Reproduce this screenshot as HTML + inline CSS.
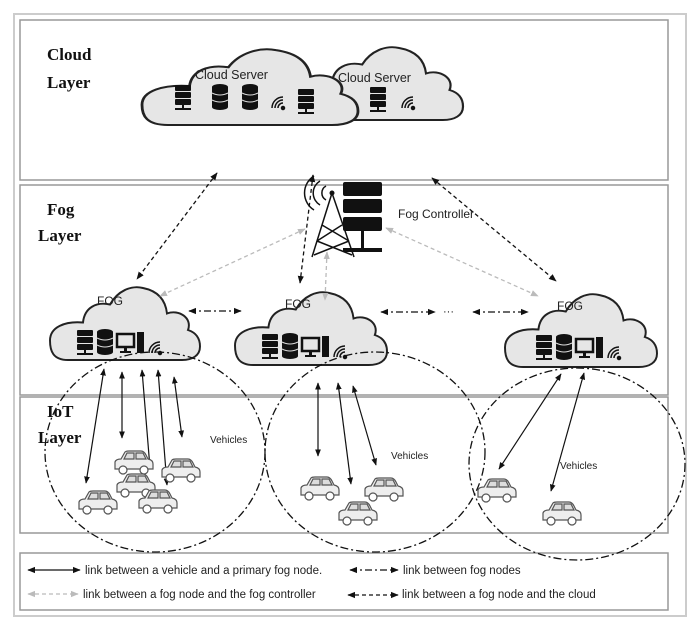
<!DOCTYPE html>
<html><head><meta charset="utf-8"><style>
html,body{margin:0;padding:0;background:#fff;}
svg{display:block;font-family:"Liberation Sans",sans-serif;}
</style></head><body>
<svg width="700" height="631" viewBox="0 0 700 631" xmlns="http://www.w3.org/2000/svg">
<defs>
<path id="cl" d="M12,50 C2,50 0,44 0,37 C0,28 10,24 22,25 C23,15 31,11 40,13 C45,4 54,0 62,2 C72,4 77,10 78,19 C86,16 95,22 92,30 C98,32 100,36 100,41 C100,47 95,50 88,50 Z"/>
<marker id="ab" viewBox="0 0 10 10" refX="9" refY="5" markerWidth="6" markerHeight="6" orient="auto-start-reverse"><path d="M0,1 L10,5 L0,9 z" fill="#111"/></marker>
<marker id="ag" viewBox="0 0 10 10" refX="9" refY="5" markerWidth="6" markerHeight="6" orient="auto-start-reverse"><path d="M0,1 L10,5 L0,9 z" fill="#bbb"/></marker>
<g id="srv"><rect x="0" y="0" width="16" height="6" rx="1" fill="#111"/><rect x="0" y="7" width="16" height="6" rx="1" fill="#111"/><rect x="0" y="14" width="16" height="6" rx="1" fill="#111"/><rect x="7" y="20" width="2" height="4" fill="#111"/><rect x="0" y="23" width="16" height="2" fill="#111"/></g>
<g id="db"><ellipse cx="8" cy="3" rx="8" ry="3" fill="#111"/><rect x="0" y="3" width="16" height="20" fill="#111"/><ellipse cx="8" cy="23" rx="8" ry="3" fill="#111"/><path d="M0,9 Q8,13 16,9 M0,16 Q8,20 16,16" stroke="#ddd" fill="none" stroke-width="1"/></g>
<g id="pc"><rect x="0" y="3" width="17" height="13" fill="none" stroke="#111" stroke-width="2.5"/><rect x="7" y="16" width="3" height="4" fill="#111"/><rect x="3" y="20" width="11" height="2" fill="#111"/><rect x="20" y="1" width="7" height="21" fill="#111"/></g>
<g id="wf" fill="none" stroke="#111" stroke-width="1.5"><circle cx="10" cy="18" r="1.5" fill="#111"/><path d="M5,18 A5,5 0 0 1 10,13"/><path d="M2,18 A8,8 0 0 1 10,10"/><path d="M-1,18 A11,11 0 0 1 10,7"/></g>
<g id="car" fill="#eee" stroke="#555" stroke-width="1.2"><path d="M2,19 L2,12 Q3,9 8,9 L12,2 Q13,1 16,1 L28,1 Q31,1 33,5 L35,9 Q40,10 40,14 L40,19 Z"/><path d="M14,3 L11,9 L21,9 L21,3 Z M23,3 L23,9 L33,9 L30,3 Z" fill="#ddd"/><circle cx="10" cy="20" r="4" fill="#fff"/><circle cx="31" cy="20" r="4" fill="#fff"/></g>
<g id="fogicons"><use href="#srv" x="0" y="0"/><use href="#db" x="20" y="-1"/><use href="#pc" x="40" y="1"/><use href="#wf" x="73" y="5"/></g>
</defs>
<rect x="14" y="14" width="672" height="602" fill="#fff" stroke="#ccc" stroke-width="2"/>
<rect x="20" y="20" width="648" height="160" fill="#fff" stroke="#999" stroke-width="1.5"/>
<rect x="20" y="185" width="648" height="210" fill="#fff" stroke="#999" stroke-width="1.5"/>
<rect x="20" y="397" width="648" height="136" fill="#fff" stroke="#999" stroke-width="1.5"/>
<rect x="20" y="553" width="648" height="57" fill="#fff" stroke="#999" stroke-width="1.5"/>
<g font-family="Liberation Serif,serif" font-weight="bold" font-size="17" fill="#111">
<text x="47" y="60">Cloud</text><text x="47" y="88">Layer</text>
<text x="47" y="215">Fog</text><text x="38" y="241">Layer</text>
<text x="47" y="417">IoT</text><text x="38" y="443">Layer</text>
</g>
<!-- clouds -->
<use href="#cl" transform="translate(295,45) scale(1.68,1.5)" fill="#e6e6e6" stroke="#222" stroke-width="1.3" vector-effect="non-scaling-stroke"/>
<use href="#cl" transform="translate(142,47) scale(2.16,1.56)" fill="#e6e6e6" stroke="#222" stroke-width="1.3" vector-effect="non-scaling-stroke"/>
<text x="195" y="100" font-size="13" fill="#222" style="display:none"></text>
<text x="196" y="100" font-size="13" fill="#222"></text>
<text x="196" y="100" font-size="12.5" fill="#222"> </text>
<text x="195" y="101" font-size="12.5" fill="#222" style="display:none">x</text>
<text x="195" y="79" font-size="12.5" fill="#222">Cloud Server</text>
<text x="338" y="82" font-size="12.5" fill="#222">Cloud Server</text>
<use href="#srv" x="175" y="85"/><use href="#db" x="212" y="84"/><use href="#db" x="242" y="84"/><use href="#wf" x="273" y="90"/><use href="#srv" x="298" y="89"/>
<use href="#srv" x="370" y="87"/><use href="#wf" x="403" y="90"/>
<!-- fog clouds -->
<use href="#cl" transform="translate(50,285) scale(1.5,1.5)" fill="#e6e6e6" stroke="#222" stroke-width="1.3" vector-effect="non-scaling-stroke"/>
<use href="#cl" transform="translate(235,290) scale(1.52,1.5)" fill="#e6e6e6" stroke="#222" stroke-width="1.3" vector-effect="non-scaling-stroke"/>
<use href="#cl" transform="translate(505,292) scale(1.52,1.5)" fill="#e6e6e6" stroke="#222" stroke-width="1.3" vector-effect="non-scaling-stroke"/>
<text x="97" y="305" font-size="12" fill="#222">FOG</text>
<text x="285" y="308" font-size="12" fill="#222">FOG</text>
<text x="557" y="310" font-size="12" fill="#222">FOG</text>
<use href="#fogicons" x="77" y="330"/><use href="#fogicons" x="262" y="334"/><use href="#fogicons" x="536" y="335"/>
<!-- fog controller -->
<g stroke="#111" stroke-width="1.5" fill="none"><path d="M332,193 L312,257 M332,193 L354,257 M322,225 L349,241 M342,225 L317,241 M317,241 L352,255 M349,241 L314,255"/>
<path d="M326,200 A8,8 0 0 1 326,186 M320,205 A14,14 0 0 1 320,181 M314,210 A20,20 0 0 1 314,176"/></g>
<circle cx="332" cy="193" r="2.5" fill="#111"/>
<rect x="343" y="182" width="39" height="14" rx="2" fill="#111"/><rect x="343" y="199" width="39" height="14" rx="2" fill="#111"/><rect x="343" y="217" width="39" height="14" rx="2" fill="#111"/>
<rect x="361" y="231" width="3" height="18" fill="#111"/><rect x="343" y="248" width="39" height="4" fill="#111"/>
<text x="398" y="218" font-size="12" fill="#222">Fog Controller</text>
<!-- cloud links -->
<g stroke="#111" stroke-width="1.3" stroke-dasharray="4,3" fill="none" marker-start="url(#ab)" marker-end="url(#ab)">
<line x1="217" y1="173" x2="137" y2="279"/><line x1="313" y1="175" x2="300" y2="283"/><line x1="432" y1="178" x2="556" y2="281"/></g>
<g stroke="#bbb" stroke-width="1.3" stroke-dasharray="4,3" fill="none" marker-start="url(#ag)" marker-end="url(#ag)">
<line x1="305" y1="229" x2="160" y2="296"/><line x1="327" y1="252" x2="325" y2="300"/><line x1="386" y1="228" x2="538" y2="296"/></g>
<g stroke="#111" stroke-width="1.3" stroke-dasharray="7,3,2,3" fill="none" marker-start="url(#ab)" marker-end="url(#ab)">
<line x1="189" y1="311" x2="241" y2="311"/><line x1="381" y1="312" x2="435" y2="312"/><line x1="473" y1="312" x2="528" y2="312"/></g>
<text x="443" y="315" font-size="11" fill="#111">···</text>
<!-- coverage ellipses -->
<g fill="none" stroke="#111" stroke-width="1.3" stroke-dasharray="8,3,2,3">
<ellipse cx="155" cy="452" rx="110" ry="100"/><ellipse cx="375" cy="452" rx="110" ry="100"/><ellipse cx="577" cy="464" rx="108" ry="96"/></g>
<!-- vehicle links -->
<g stroke="#111" stroke-width="1.2" marker-start="url(#ab)" marker-end="url(#ab)">
<line x1="104" y1="369" x2="86" y2="483"/><line x1="122" y1="372" x2="122" y2="438"/><line x1="142" y1="370" x2="150" y2="468"/><line x1="158" y1="370" x2="167" y2="485"/><line x1="174" y1="377" x2="182" y2="437"/>
<line x1="318" y1="383" x2="318" y2="456"/><line x1="338" y1="383" x2="351" y2="484"/><line x1="353" y1="386" x2="376" y2="465"/>
<line x1="561" y1="374" x2="499" y2="469"/><line x1="584" y1="373" x2="551" y2="491"/></g>
<g font-size="10" fill="#222"><text x="210" y="443">Vehicles</text><text x="391" y="459">Vehicles</text><text x="560" y="469">Vehicles</text></g>
<use href="#car" x="113" y="450"/><use href="#car" x="160" y="458"/><use href="#car" x="115" y="473"/><use href="#car" x="77" y="490"/><use href="#car" x="137" y="489"/>
<use href="#car" x="299" y="476"/><use href="#car" x="363" y="477"/><use href="#car" x="337" y="501"/>
<use href="#car" x="476" y="478"/><use href="#car" x="541" y="501"/>
<!-- legend -->
<g stroke-width="1.3" fill="none">
<line x1="28" y1="570" x2="80" y2="570" stroke="#111" marker-start="url(#ab)" marker-end="url(#ab)"/>
<line x1="350" y1="570" x2="398" y2="570" stroke="#111" stroke-dasharray="7,3,2,3" marker-start="url(#ab)" marker-end="url(#ab)"/>
<line x1="28" y1="594" x2="78" y2="594" stroke="#bbb" stroke-dasharray="4,3" marker-start="url(#ag)" marker-end="url(#ag)"/>
<line x1="348" y1="595" x2="398" y2="595" stroke="#111" stroke-dasharray="4,3" marker-start="url(#ab)" marker-end="url(#ab)"/></g>
<g font-size="11.5" fill="#222">
<text x="85" y="574">link between a vehicle and a primary fog node.</text>
<text x="403" y="574">link between fog nodes</text>
<text x="83" y="598">link between a fog node and the fog controller</text>
<text x="402" y="598">link between a fog node and the cloud</text></g>
</svg>
</body></html>
